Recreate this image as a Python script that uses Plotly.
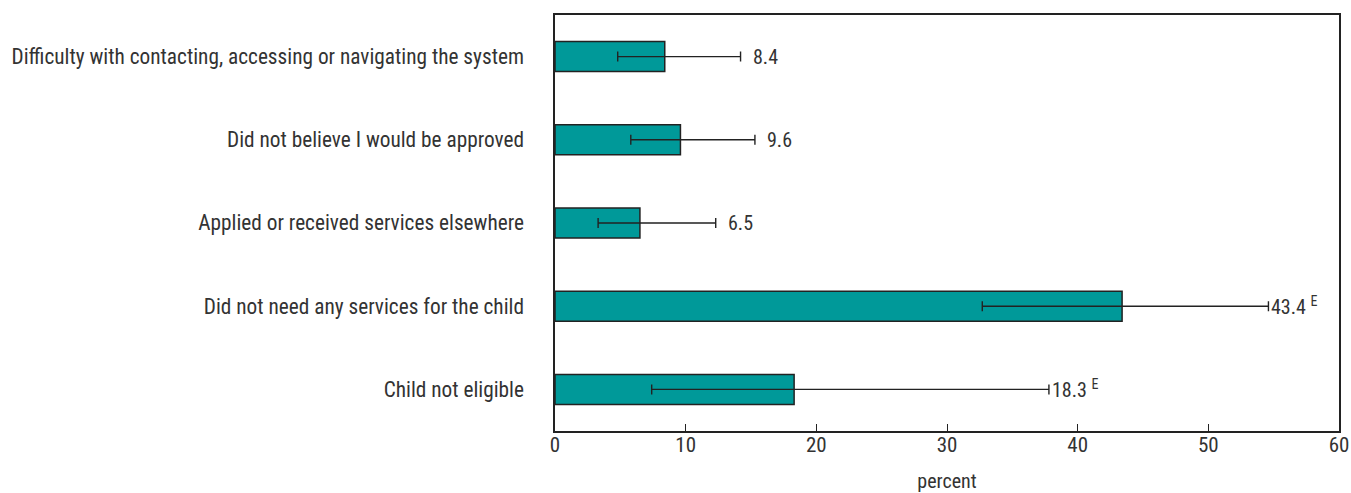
import plotly.graph_objects as go

# Reasons for not applying, with estimates and 95% confidence bounds (percent)
categories = [
    "Child not eligible",
    "Did not need any services for the child",
    "Applied or received services elsewhere",
    "Did not believe I would be approved",
    "Difficulty with contacting, accessing or navigating the system",
]
values = [18.3, 43.4, 6.5, 9.6, 8.4]
ci_low = [7.4, 32.7, 3.3, 5.8, 4.8]
ci_high = [37.8, 54.6, 12.3, 15.3, 14.2]
use_with_caution = [True, True, False, False, False]

err_plus = [h - v for h, v in zip(ci_high, values)]
err_minus = [v - l for v, l in zip(values, ci_low)]

FONT = "Liberation Sans Narrow, Roboto Condensed, Arial Narrow, sans-serif"
TEXT = "#333333"

fig = go.Figure()
fig.add_trace(go.Bar(
    y=categories,
    x=values,
    orientation="h",
    width=0.36,
    marker=dict(color="#009999", line=dict(color="#222222", width=1.5)),
    error_x=dict(
        type="data",
        symmetric=False,
        array=err_plus,
        arrayminus=err_minus,
        color="#222222",
        thickness=1.4,
        width=5,
    ),
    hoverinfo="skip",
))

for cat, v, hi, flag in zip(categories, values, ci_high, use_with_caution):
    label = f"{v:.1f}" + (" <sup>E</sup>" if flag else "")
    fig.add_annotation(
        x=hi, y=cat, text=label, showarrow=False,
        xanchor="left", yanchor="middle",
        xshift=1 if flag else 10,
        font=dict(family=FONT, size=20, color=TEXT),
    )

fig.update_layout(
    width=1351, height=493,
    margin=dict(l=555, r=12, t=15, b=62, autoexpand=False),
    paper_bgcolor="white",
    plot_bgcolor="white",
    showlegend=False,
    font=dict(family=FONT, size=20, color=TEXT),
    xaxis=dict(
        range=[0, 60],
        tickvals=[0, 10, 20, 30, 40, 50, 60],
        ticks="inside",
        ticklen=7,
        tickcolor="#222222",
        tickwidth=1,
        showgrid=False,
        zeroline=False,
        showline=True,
        linecolor="#222222",
        linewidth=1.5,
        mirror=True,
        automargin=True,
        ticklabeloverflow="allow",
        ticklabelstandoff=-6,
        tickfont=dict(family=FONT, size=21, color=TEXT),
        title=dict(text="percent", standoff=21,
                   font=dict(family=FONT, size=20, color=TEXT)),
    ),
    yaxis=dict(
        categoryorder="array",
        categoryarray=categories,
        showgrid=False,
        zeroline=False,
        showline=True,
        linecolor="#222222",
        linewidth=1.5,
        mirror=True,
        automargin=False,
        ticks="",
        ticklabelstandoff=25,
        tickfont=dict(family=FONT, size=21.3, color=TEXT),
    ),
)

fig.write_html("out.html")
